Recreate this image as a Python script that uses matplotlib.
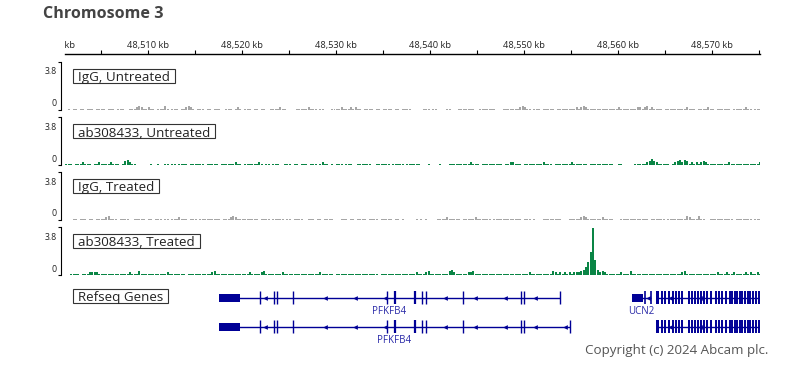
import numpy as np
import matplotlib
matplotlib.use("Agg")
import matplotlib.pyplot as plt
from matplotlib.patches import Rectangle

plt.rcParams["font.family"] = ["Open Sans", "DejaVu Sans"]

W, H = 794, 378

# -------------------------
# DATA
# -------------------------
view_start = 48501.2
view_end = 48575.1
bin_start = 48501.25
bin_size = 0.25          # kb per signal bin

ruler_minor_kb = list(range(48505, 48580, 5))
ruler_label_kb = list(range(48500, 48580, 10))

track_names = ["IgG, Untreated", "ab308433, Untreated", "IgG, Treated", "ab308433, Treated"]
track_colors = ["#a6a6a6", "#0a8545", "#a6a6a6", "#0a8545"]
y_max = 3.8

# signal per 0.25 kb bin, in tenths
igg_untreated = [
    0, 1, 0, 1, 1, 0, 1, 1, 0, 1,
    1, 1, 0, 1, 1, 1, 1, 0, 1, 1,
    1, 0, 1, 1, 1, 0, 0, 1, 1, 1,
    2, 3, 2, 1, 1, 2, 1, 1, 0, 1,
    1, 1, 3, 1, 0, 1, 1, 1, 0, 1,
    1, 2, 3, 2, 1, 0, 1, 1, 1, 0,
    1, 1, 0, 1, 1, 1, 0, 0, 1, 1,
    1, 0, 1, 2, 1, 0, 1, 1, 1, 0,
    1, 1, 0, 1, 1, 0, 0, 1, 1, 1,
    1, 2, 1, 1, 0, 0, 0, 0, 1, 1,
    1, 1, 1, 2, 1, 1, 1, 0, 1, 1,
    0, 0, 0, 1, 1, 1, 1, 2, 1, 1,
    1, 2, 1, 2, 1, 1, 0, 1, 1, 1,
    1, 0, 1, 1, 0, 1, 1, 1, 1, 0,
    1, 1, 0, 1, 1, 1, 1, 0, 0, 0,
    0, 0, 1, 1, 1, 0, 1, 1, 0, 0,
    0, 0, 1, 1, 0, 0, 0, 1, 1, 1,
    1, 1, 1, 1, 0, 0, 1, 1, 1, 1,
    1, 1, 1, 0, 0, 0, 1, 1, 1, 1,
    1, 1, 1, 2, 3, 2, 1, 1, 0, 1,
    1, 1, 0, 1, 1, 1, 1, 1, 0, 1,
    1, 1, 1, 1, 1, 1, 1, 2, 1, 2,
    3, 2, 1, 1, 1, 1, 1, 1, 1, 1,
    1, 1, 1, 1, 1, 2, 1, 1, 1, 1,
    1, 1, 1, 2, 2, 1, 2, 3, 1, 2,
    1, 1, 1, 1, 0, 1, 1, 1, 1, 1,
    1, 1, 1, 1, 2, 1, 1, 1, 0, 1,
    1, 1, 1, 2, 1, 1, 0, 1, 1, 1,
    1, 1, 1, 0, 1, 1, 1, 1, 1, 2,
    1, 1, 0, 1, 1, 1, 0, 0,
]

ab_untreated = [
    1, 1, 1, 0, 1, 1, 1, 2, 1, 1,
    1, 0, 1, 1, 2, 1, 1, 1, 1, 2,
    1, 1, 1, 0, 1, 3, 4, 2, 1, 1,
    0, 0, 0, 0, 0, 0, 1, 0, 0, 1,
    0, 0, 1, 1, 0, 1, 1, 0, 1, 1,
    1, 1, 0, 1, 1, 1, 1, 1, 1, 0,
    1, 1, 1, 1, 1, 0, 1, 1, 1, 1,
    1, 1, 2, 1, 1, 0, 1, 1, 1, 1,
    1, 1, 2, 1, 0, 1, 1, 0, 1, 1,
    1, 0, 0, 1, 1, 1, 0, 1, 1, 0,
    1, 1, 1, 0, 1, 1, 1, 0, 1, 2,
    1, 1, 0, 1, 0, 1, 1, 1, 0, 1,
    1, 1, 0, 0, 1, 1, 1, 1, 1, 1,
    0, 0, 1, 1, 1, 1, 1, 1, 0, 1,
    1, 1, 1, 1, 0, 1, 1, 1, 1, 1,
    1, 0, 0, 0, 1, 0, 0, 0, 0, 1,
    0, 0, 0, 1, 1, 1, 1, 1, 1, 1,
    1, 1, 2, 1, 1, 1, 0, 1, 1, 1,
    1, 1, 1, 1, 1, 1, 0, 1, 1, 2,
    2, 1, 1, 1, 0, 1, 1, 1, 1, 1,
    1, 1, 1, 2, 1, 1, 1, 0, 1, 1,
    1, 1, 1, 1, 1, 2, 1, 1, 1, 1,
    1, 1, 0, 1, 1, 1, 1, 1, 1, 1,
    1, 1, 1, 0, 0, 1, 1, 0, 0, 0,
    0, 0, 1, 1, 1, 1, 1, 2, 3, 5,
    3, 2, 1, 1, 1, 1, 1, 0, 1, 2,
    3, 4, 2, 4, 3, 1, 2, 1, 2, 1,
    2, 3, 2, 1, 1, 1, 1, 1, 1, 1,
    1, 1, 2, 1, 1, 1, 1, 1, 1, 1,
    1, 1, 1, 1, 1, 2, 1, 1,
]

igg_treated = [
    0, 0, 0, 1, 1, 0, 1, 1, 1, 0,
    1, 1, 0, 1, 1, 1, 1, 2, 3, 1,
    1, 1, 0, 1, 1, 1, 1, 0, 0, 1,
    1, 1, 1, 1, 0, 1, 1, 0, 1, 1,
    1, 0, 1, 1, 0, 1, 1, 1, 2, 1,
    1, 1, 0, 1, 1, 1, 0, 1, 1, 1,
    1, 1, 1, 1, 1, 1, 0, 1, 1, 1,
    2, 3, 2, 1, 1, 1, 1, 1, 1, 1,
    1, 1, 0, 1, 1, 1, 1, 0, 1, 1,
    1, 1, 1, 0, 1, 1, 0, 1, 1, 1,
    1, 0, 0, 1, 1, 1, 0, 1, 1, 0,
    1, 1, 1, 1, 0, 0, 0, 1, 1, 1,
    0, 1, 1, 0, 1, 1, 1, 1, 0, 1,
    1, 1, 1, 0, 1, 1, 1, 1, 1, 0,
    1, 1, 0, 1, 0, 0, 0, 0, 0, 1,
    0, 1, 0, 1, 0, 0, 0, 0, 1, 1,
    1, 1, 2, 1, 1, 1, 1, 1, 0, 1,
    1, 1, 1, 1, 2, 1, 1, 1, 1, 1,
    1, 0, 1, 1, 1, 1, 1, 1, 1, 1,
    1, 1, 1, 1, 0, 1, 1, 1, 0, 1,
    0, 0, 0, 1, 1, 1, 1, 1, 1, 1,
    1, 0, 0, 0, 1, 1, 1, 1, 1, 2,
    3, 2, 1, 1, 1, 1, 1, 1, 2, 1,
    1, 1, 1, 0, 0, 0, 1, 1, 1, 1,
    1, 1, 1, 1, 1, 1, 1, 1, 0, 1,
    1, 1, 1, 1, 1, 0, 1, 1, 1, 1,
    1, 1, 1, 1, 3, 2, 1, 1, 1, 3,
    1, 1, 0, 0, 1, 1, 1, 1, 1, 1,
    1, 1, 1, 1, 0, 1, 1, 1, 1, 1,
    1, 1, 0, 1, 1, 1, 1, 1,
]

ab_treated = [
    0, 0, 1, 1, 1, 1, 0, 1, 1, 1,
    2, 2, 2, 2, 1, 1, 1, 1, 1, 1,
    1, 1, 1, 1, 1, 1, 1, 2, 1, 1,
    1, 3, 1, 1, 1, 1, 1, 1, 1, 1,
    1, 1, 1, 2, 1, 1, 1, 1, 1, 1,
    1, 0, 1, 1, 1, 1, 1, 1, 1, 1,
    1, 1, 2, 3, 1, 1, 1, 1, 1, 1,
    1, 1, 1, 1, 1, 1, 1, 1, 2, 1,
    1, 1, 1, 2, 3, 1, 1, 1, 1, 1,
    1, 1, 2, 1, 1, 1, 1, 1, 1, 1,
    1, 1, 1, 1, 1, 1, 1, 1, 2, 1,
    1, 1, 1, 1, 0, 1, 1, 1, 1, 1,
    1, 1, 1, 1, 1, 1, 1, 1, 1, 1,
    1, 1, 1, 0, 1, 1, 1, 1, 1, 1,
    1, 1, 1, 1, 1, 1, 1, 1, 1, 2,
    1, 1, 1, 2, 3, 1, 1, 1, 1, 1,
    1, 1, 1, 3, 4, 2, 1, 1, 1, 1,
    1, 2, 2, 3, 1, 1, 1, 1, 1, 1,
    1, 1, 1, 1, 1, 1, 1, 1, 1, 1,
    1, 1, 1, 1, 1, 1, 1, 2, 1, 1,
    1, 1, 1, 1, 1, 1, 1, 3, 2, 1,
    2, 1, 2, 1, 2, 1, 2, 2, 2, 3,
    4, 6, 10, 18, 37, 12, 4, 2, 3, 2,
    1, 1, 1, 1, 1, 1, 2, 1, 1, 1,
    3, 1, 1, 1, 1, 1, 1, 1, 1, 1,
    1, 1, 1, 1, 1, 1, 1, 1, 1, 1,
    1, 1, 2, 3, 1, 1, 1, 1, 1, 1,
    1, 1, 1, 1, 1, 1, 1, 2, 1, 1,
    1, 2, 1, 1, 2, 1, 1, 1, 1, 2,
    1, 2, 1, 1, 2, 1, 1, 1,
]

track_values = [igg_untreated, ab_untreated, igg_treated, ab_treated]

# Refseq genes (kb)
pfkfb4_utr = (48517.55, 48519.79)
pfkfb4_exons = [48521.91, 48523.45, 48523.78, 48525.43, 48535.43, 48536.28,
                48538.40, 48539.15, 48539.57, 48543.51, 48549.72, 48550.05]
pfkfb4_exon_lw = [1.0, 1.0, 1.0, 1.0, 1.0, 1.6, 1.6, 1.0, 1.0, 1.0, 1.0, 1.0]
pfkfb4_ends = [48553.83, 48554.89]
pfkfb4_arrows = [48522.45, 48528.83, 48532.02, 48535.21, 48541.60,
                 48544.79, 48547.98, 48551.17, 48554.36]

ucn2_utr = (48561.49, 48562.66)
ucn2_exons = [48562.87, 48563.51]
ucn2_arrows = [48563.19]

col7a1_utr = (48564.00, 48564.35)
col7a1_exons = [48564.68, 48565.00, 48565.43, 48565.85, 48566.17, 48566.49, 48566.81,
                48567.55, 48567.87, 48568.19, 48568.51, 48568.83, 48569.15, 48569.47,
                48569.89, 48570.43, 48570.74, 48571.06, 48571.49, 48571.91, 48572.13,
                48572.45, 48572.66, 48572.98, 48573.19, 48573.51, 48573.83, 48574.04,
                48574.36, 48574.68, 48575.00]
col7a1_arrows = [48565.53, 48568.72]

GENE_BLUE = "#000096"
LABEL_BLUE = "#2a2aa8"

# -------------------------
# FIGURE
# -------------------------
fig = plt.figure(figsize=(W / 100, H / 100), dpi=100)


def px_axes(left, top, right, bottom):
    return fig.add_axes([left / W, 1 - bottom / H, (right - left) / W, (bottom - top) / H])


fig.text(43 / W, 1 - 18 / H, "Chromosome 3", fontsize=11.6, fontweight="bold",
         color="#444444", va="baseline", ha="left")

# ruler
ax = px_axes(65, 30, 760, 54)
ax.set_xlim(view_start, view_end)
ax.set_ylim(0, 1)
for s in ["top", "left", "right"]:
    ax.spines[s].set_visible(False)
ax.spines["bottom"].set_linewidth(1.0)
ax.set_xticks(ruler_minor_kb)
ax.tick_params(axis="x", direction="in", length=3, width=0.8, labelbottom=False)
ax.set_yticks([])
ax.patch.set_alpha(0)
for kb in ruler_label_kb:
    ax.text(kb, 0.25, f"{kb:,} kb", ha="center", va="baseline", fontsize=6.7,
            color="#222222", clip_on=True)

# signal tracks
track_tops = [62, 117, 172, 227]
label_texts = []
for name, vals, color, top in zip(track_names, track_values, track_colors, track_tops):
    ax = px_axes(65, top, 760, top + 48)
    vals = np.array(vals) / 10
    x = bin_start + bin_size * np.arange(len(vals))
    ax.bar(x, vals, width=bin_size * 0.85, align="edge", color=color, linewidth=0)
    ax.set_xlim(view_start, view_end)
    ax.set_ylim(0, y_max)
    for s in ["top", "bottom", "right"]:
        ax.spines[s].set_visible(False)
    ax.spines["left"].set_position(("outward", 3))
    ax.spines["left"].set_linewidth(0.8)
    ax.set_yticks([0, y_max])
    ax.tick_params(axis="y", length=2.2, width=0.8, labelleft=False)
    ax.set_xticks([])
    ax.patch.set_alpha(0)
    fig.text(57 / W, 1 - (top + 12.5) / H, "3.8", fontsize=6.3, ha="right",
             va="baseline", color="#222222")
    fig.text(57 / W, 1 - (top + 44.5) / H, "0", fontsize=6.3, ha="right",
             va="baseline", color="#222222")
    label_texts.append((fig.text(78 / W, 1 - (top + 19.5) / H, name, fontsize=9.6,
                                 ha="left", va="baseline", color="#222222"), top + 7))

# gene track
gax = px_axes(65, 285, 760, 345)
gax.set_xlim(view_start, view_end)
gax.set_ylim(1.621, -0.448)
gax.axis("off")


def draw_transcript(row, start, end, utr, exons, exon_lw, arrows, utr_h=0.276, exon_h=0.448):
    gax.hlines(row, start, end, color=GENE_BLUE, lw=1)
    gax.bar(utr[0], utr_h, width=utr[1] - utr[0], bottom=row - utr_h / 2,
            align="edge", color=GENE_BLUE, linewidth=0)
    gax.vlines(exons, row - exon_h / 2, row + exon_h / 2, colors=GENE_BLUE,
               linewidths=exon_lw)
    if arrows:
        gax.plot(arrows, [row] * len(arrows), ls="none", marker="<", ms=3.4,
                 color=GENE_BLUE, mew=0)


for row, end in enumerate(pfkfb4_ends):
    exons = pfkfb4_exons + [end]
    widths = pfkfb4_exon_lw + [1.0]
    arrows = [a for a in pfkfb4_arrows if a < end - 0.3]
    draw_transcript(row, pfkfb4_utr[0], end, pfkfb4_utr, exons, widths, arrows)
    gax.text((pfkfb4_utr[0] + end) / 2, row + 0.48, "PFKFB4", fontsize=7,
             color=LABEL_BLUE, ha="center", va="center")

draw_transcript(0, ucn2_utr[0], ucn2_exons[-1], ucn2_utr, ucn2_exons, 1.2, ucn2_arrows)
gax.text((ucn2_utr[0] + ucn2_exons[-1]) / 2, 0.48, "UCN2", fontsize=7,
         color=LABEL_BLUE, ha="center", va="center")

for row in [0, 1]:
    draw_transcript(row, col7a1_utr[0], view_end + 5, col7a1_utr, col7a1_exons, 1.4,
                    col7a1_arrows, utr_h=0.448)

label_texts.append((fig.text(78 / W, 1 - 301.5 / H, "Refseq Genes", fontsize=9.6,
                             ha="left", va="baseline", color="#222222"), 289))

fig.text(585 / W, 1 - 354 / H, "Copyright (c) 2024 Abcam plc.", fontsize=9.6,
         color="#555555", ha="left", va="baseline")

# boxes round the track names
renderer = fig.canvas.get_renderer()
for t, box_top in label_texts:
    bb = t.get_window_extent(renderer)
    fig.add_artist(Rectangle((73 / W, 1 - (box_top + 14) / H), (bb.x1 + 5 - 73) / W, 14 / H,
                             transform=fig.transFigure, fill=False, edgecolor="#333333",
                             linewidth=0.8))

fig.savefig("out.png", dpi=100)
plt.close(fig)
